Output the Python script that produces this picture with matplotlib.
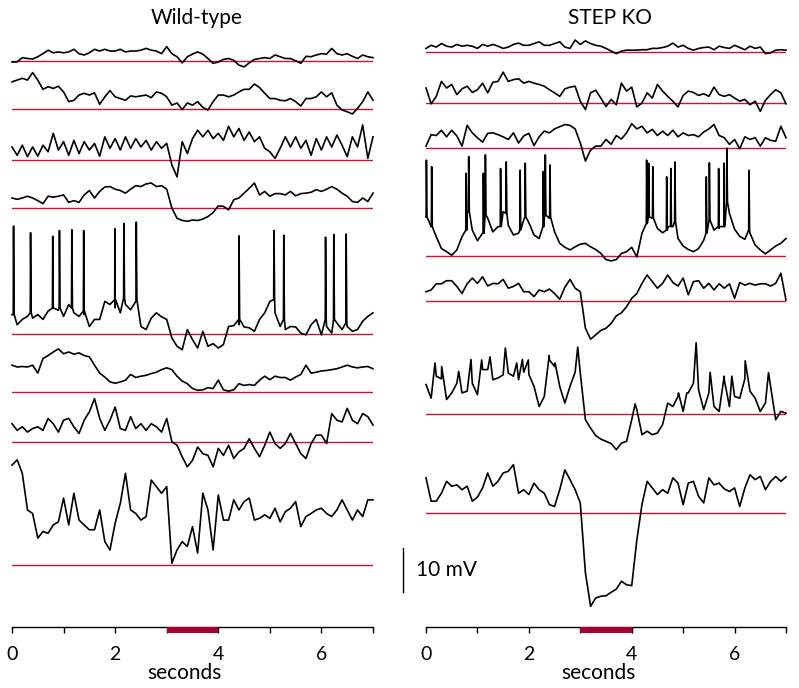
import numpy as np
import matplotlib
matplotlib.use("Agg")
import matplotlib.pyplot as plt

plt.rcParams['font.family'] = ['Lato', 'DejaVu Sans']

# sample times of the traces (s)
dt = 0.1
n_samples = 71

# membrane potential, mV relative to the red baseline of each trace
# Wild-type
wt1 = [-0.2, -0.15, 0.8, 0.6, 0.5, 1.0, 1.7, 2.5, 1.9, 2.1, 1.9, 2.1, 2.7, 1.7, 1.4, 1.9, 2.7, 2.3, 2.7, 2.3,
       2.3, 2.7, 2.1, 2.3, 2.3, 2.5, 2.9, 2.5, 2.3, 1.7, 3.3, 1.7, 1.0, -0.4, 1.0, 1.6, 2.1, 1.6, 0.6, -0.5,
       -0.2, 0.4, 0.6, 0.2, -0.9, -1.3, -0.4, 0.4, 0.6, 0.8, 0.6, 1.4, 1.0, 0.6, 0.6, 0.1, -0.5, 1.1, 1.0, 1.4,
       1.7, 1.6, 2.9, 1.7, 1.4, 1.7, 1.1, 0.6, 1.4, 1.0, 0.8]
wt2 = [6.2, 6.6, 7.0, 6.6, 8.3, 6.6, 4.5, 5.1, 4.7, 5.2, 3.9, 1.7, 2.0, 3.2, 3.6, 3.2, 3.7, 1.1, 2.8, 4.2,
       2.8, 2.4, 2.0, 3.0, 2.8, 3.0, 3.2, 2.6, 3.9, 3.6, 2.8, 0.9, 1.4, -0.1, 1.4, 0.9, 1.7, 0.4, -0.2, 1.7,
       3.2, 3.2, 2.8, 3.2, 3.9, 4.5, 4.5, 5.7, 4.9, 3.6, 2.4, 2.4, 2.0, 1.9, 2.4, 1.7, 0.7, 2.4, 2.4, 2.8,
       3.9, 2.8, 3.7, 0.9, -0.2, -0.6, -1.1, 0.15, 1.7, 3.9, 2.0]
wt3 = [3.0, 1.1, 3.4, 0.8, 3.0, 0.9, 3.4, 1.9, 6.1, 2.3, 4.2, 1.1, 4.5, 1.5, 4.2, 2.3, 3.8, 0.9, 5.3, 2.7,
       4.9, 2.3, 5.3, 2.7, 4.9, 3.0, 4.5, 2.3, 4.2, 2.7, 3.8, -1.1, -3.8, 4.2, 1.5, 4.9, 6.8, 5.3, 6.8, 4.9,
       6.1, 4.5, 7.7, 5.3, 7.2, 4.5, 6.4, 4.2, 5.3, 2.7, 1.9, 0.4, 2.7, 5.3, 3.0, 5.3, 2.7, 4.5, 1.1, 4.9,
       2.3, 5.3, 3.0, 5.7, 3.4, 0.8, 5.3, 3.0, 8.0, 0.4, 5.3]
wt4 = [2.3, 2.0, 2.3, 2.7, 2.3, 1.7, 1.0, 2.7, 2.5, 2.7, 3.0, 1.3, 1.7, 1.3, 3.0, 4.0, 2.3, 3.8, 4.8, 4.9,
       4.3, 4.0, 3.4, 4.3, 5.1, 4.9, 5.5, 5.7, 4.9, 5.1, 4.3, 0.0, -2.3, -2.8, -3.0, -2.7, -2.8, -2.5, -1.9, -1.0,
       0.5, 0.4, -0.4, 1.9, 2.3, 3.4, 4.5, 5.7, 3.0, 3.8, 2.7, 3.3, 3.3, 3.0, 3.8, 2.8, 3.3, 3.4, 3.6, 4.2,
       3.8, 4.3, 4.9, 4.3, 3.4, 2.7, 1.5, 1.3, 2.3, 1.5, 3.4]
wt5 = [4.4, 2.1, 3.3, 4.0, 3.6, 4.4, 3.3, 5.2, 5.9, 5.4, 4.0, 6.7, 4.8, 4.0, 4.4, 1.7, 3.3, 3.3, 7.4, 6.7,
       5.9, 4.8, 6.7, 5.5, 7.4, 1.7, 1.0, 3.6, 4.8, 3.9, 3.3, -0.9, -2.8, -3.6, 1.0, -1.3, -3.2, 0.6, -2.8, -2.2,
       -3.2, -2.4, 1.7, 1.9, 2.1, 1.6, 1.4, 0.6, 3.3, 4.8, 7.4, 4.8, 1.7, 1.0, 1.7, 1.6, 0.2, -0.2, 2.1, 3.3,
       -0.2, 1.7, 0.2, 2.5, 1.0, 1.7, 0.6, 1.0, 2.9, 4.0, 4.8]
wt5_spike_t = [0.03, 0.36, 0.79, 0.92, 1.16, 1.39, 1.997, 2.17, 2.41, 4.402, 5.08, 5.27, 6.08, 6.24, 6.48]
wt5_spike_mv = [24.5, 23.0, 22.2, 23.5, 23.7, 23.5, 23.9, 25.1, 25.4, 22.3, 23.5, 22.4, 22.0, 22.6, 22.7]
wt5_spike_foot = [4.4, 4.8, 5.9, 5.9, 5.9, 5.2, 7.8, 8.2, 7.8, 3.3, 7.8, 3.3, 3.3, 3.3, 2.5]
wt6 = [6.1, 5.7, 5.8, 5.7, 6.1, 4.3, 7.6, 8.3, 9.1, 9.8, 8.7, 9.1, 8.6, 8.9, 8.3, 8.0, 6.1, 4.3, 3.4, 2.3,
       2.0, 2.3, 2.7, 4.0, 3.3, 3.6, 3.8, 4.2, 4.5, 5.1, 5.5, 5.1, 3.6, 2.5, 1.9, 0.8, 0.4, 0.5, 1.0, 0.8,
       2.7, 0.5, 0.2, 0.5, 1.9, 1.5, 1.7, 1.5, 2.7, 3.6, 2.8, 3.6, 3.3, 3.3, 2.7, 3.4, 4.0, 6.1, 4.3, 4.5,
       4.8, 4.9, 5.1, 5.3, 5.7, 6.1, 5.7, 5.5, 5.7, 5.8, 5.3]
wt7 = [4.2, 2.7, 3.5, 2.3, 3.1, 3.5, 2.7, 5.4, 4.2, 2.3, 5.0, 5.4, 3.5, 2.0, 5.0, 6.9, 9.9, 5.4, 2.7, 5.0,
       8.0, 3.1, 2.7, 5.8, 3.1, 4.2, 2.7, 4.2, 3.5, 2.3, 5.4, 0.1, -0.7, -3.3, -5.6, -4.1, -1.1, -2.6, -3.0, -5.6,
       -1.4, -3.0, -0.7, -3.7, -2.2, -1.4, 0.8, -1.4, -3.3, -0.7, 2.3, -0.3, -1.4, -0.3, 2.0, -0.3, -2.6, -3.7, -0.3, 1.6,
       1.6, -0.3, 6.5, 5.0, 4.6, 7.7, 5.0, 4.2, 6.5, 5.8, 3.9]
wt8 = [22.7, 23.9, 20.8, 12.5, 11.7, 6.1, 7.6, 7.2, 9.1, 9.8, 15.2, 9.1, 16.3, 10.2, 9.1, 8.0, 8.0, 12.5, 5.3, 3.4,
       9.5, 14.0, 20.8, 12.5, 11.7, 10.2, 11.0, 19.3, 17.8, 16.3, 17.8, 0.4, 3.4, 5.3, 4.2, 8.7, 2.7, 16.3, 12.5, 3.4,
       15.9, 10.2, 10.2, 14.8, 12.5, 14.4, 15.2, 10.2, 10.6, 11.4, 10.6, 12.9, 9.8, 12.1, 12.9, 14.4, 8.7, 11.0, 11.7, 12.5,
       12.9, 11.7, 11.0, 12.5, 14.8, 12.5, 10.2, 12.5, 11.0, 14.8, 14.8]

# STEP KO
ko1 = [0.8, 1.5, 1.1, 1.9, 1.3, 1.1, 1.7, 1.3, 1.5, 1.3, 0.8, 1.7, 1.3, 1.7, 1.3, 0.8, 1.1, 1.7, 2.0, 1.5,
       1.5, 1.9, 2.3, 1.5, 1.5, 1.9, 2.3, 1.1, 0.8, 2.7, 1.7, 2.5, 1.9, 1.5, 1.3, 0.8, 0.2, -0.4, 0.2, 0.4,
       0.4, 0.4, 0.5, 0.5, 0.8, 0.8, 1.0, 1.3, 2.0, 1.1, 1.5, 0.8, 0.4, 0.8, 1.0, 1.1, 0.5, 1.3, 1.0, 0.8,
       1.5, 1.0, 0.5, 1.3, 0.8, 1.1, -0.4, -0.2, 0.4, 0.5, 0.4]
ko2 = [3.4, -0.2, 1.5, 4.9, 3.4, 4.2, 1.9, 3.2, 3.8, 2.4, 3.0, 4.5, 2.3, 4.7, 4.9, 7.0, 4.9, 5.3, 5.5, 4.5,
       4.9, 4.5, 4.2, 3.8, 3.0, 2.3, 1.5, 3.2, 3.6, 3.8, 0.4, -1.5, 2.3, 2.9, 1.1, -0.8, 0.8, -0.4, 4.5, 2.7,
       3.6, -0.9, 0.0, 2.3, 1.1, 4.2, 2.7, 1.5, 0.4, -0.9, 1.7, 2.7, 2.4, 1.7, 2.1, 1.5, 3.6, 1.9, 1.5, 1.9,
       1.1, 0.4, 0.8, -0.4, 0.4, -1.9, 0.6, 1.9, 3.0, 2.3, -0.2]
ko3 = [0.4, 3.0, 2.8, 4.0, 2.5, 4.0, 2.7, 0.4, 5.1, 3.4, 2.3, 1.3, 3.3, 3.4, 3.0, 2.5, 1.9, 3.4, 1.1, 2.7,
       3.3, 0.5, 2.5, 3.8, 3.4, 4.3, 4.8, 5.3, 5.1, 4.3, 1.1, -3.0, -0.5, 0.4, 0.4, 1.9, 0.8, 2.8, 2.0, 3.4,
       5.5, 4.3, 4.9, 3.4, 4.2, 2.8, 3.8, 2.8, 4.0, 2.5, 3.4, 2.8, 3.0, 2.5, 3.6, 4.3, 5.3, 2.8, 2.3, 0.8,
       1.9, -0.2, 2.5, 1.9, 2.3, 0.4, 2.3, 1.7, 1.5, 4.9, 2.3]
ko4 = [8.9, 6.7, 4.4, 1.7, 1.0, 0.2, 1.4, 4.4, 9.7, 5.9, 3.5, 5.2, 8.6, 5.5, 6.7, 10.1, 7.0, 4.8, 5.2, 8.2,
       7.6, 4.8, 4.0, 8.6, 8.6, 5.5, 2.9, 2.0, 1.4, 2.1, 2.7, 2.9, 2.1, 1.5, 0.6, -0.8, -1.1, -0.8, 0.6, 1.0,
       2.0, -0.2, 5.2, 9.7, 8.6, 6.3, 5.3, 6.7, 6.7, 4.0, 2.3, 1.5, 1.0, 1.7, 3.6, 7.8, 5.9, 6.3, 6.7, 9.7,
       6.1, 4.5, 3.8, 5.2, 2.5, 1.4, 0.5, 1.4, 2.3, 2.9, 4.0]
ko4_spike_t = [0.008, 0.11, 0.78, 0.83, 1.115, 1.155, 1.45, 1.56, 1.83, 1.93, 2.28, 2.32, 2.41,
               4.29, 4.33, 4.41, 4.68, 4.76, 4.84, 5.45, 5.51, 5.69, 5.798, 5.85, 6.28]
ko4_spike_mv = [21.8, 20.3, 18.8, 22.6, 18.8, 23.0, 19.9, 21.4, 19.5, 21.1, 19.2, 23.0, 20.7,
                21.8, 21.1, 20.3, 18.0, 19.9, 21.4, 18.0, 21.2, 19.9, 21.1, 24.5, 19.5]
ko4_spike_foot = [8.9, 6.7, 5.9, 10.1, 5.2, 9.3, 6.7, 9.7, 5.9, 8.9, 6.7, 9.3, 8.9,
                  7.4, 8.9, 8.6, 5.9, 6.7, 7.8, 5.2, 8.2, 6.7, 6.7, 12.3, 5.9]
ko5 = [2.1, 2.5, 3.9, 3.9, 4.6, 4.6, 3.3, 1.7, 3.9, 5.2, 4.0, 5.5, 3.4, 4.0, 3.9, 4.9, 2.9, 3.3, 4.0, 2.1,
       2.1, 1.0, 2.5, 2.1, 2.7, 1.7, 0.4, 3.1, 4.9, 2.9, 2.1, -6.2, -8.7, -7.7, -6.7, -6.2, -5.1, -3.4, -2.7, -1.3,
       0.6, 1.7, 4.0, 5.9, 4.4, 2.9, 4.0, 5.9, 4.2, 3.4, 5.2, 1.4, 4.4, 4.6, 2.9, 4.0, 2.5, 3.9, 2.9, 3.9,
       0.6, 4.2, 3.6, 4.0, 3.6, 3.9, 3.9, 3.4, 4.0, 6.3, 0.2]
ko6 = [6.7, 3.6, 8.6, 8.0, 3.3, 4.8, 7.0, 4.8, 5.2, 7.0, 4.4, 10.1, 10.1, 7.8, 8.2, 8.9, 9.3, 8.6, 7.8, 9.5,
       9.0, 6.3, 1.7, 4.0, 12.3, 10.8, 6.3, 2.5, 6.3, 9.5, 9.3, -1.3, -3.2, -4.9, -5.7, -6.2, -6.7, -8.1, -6.6, -6.2,
       -1.3, 1.0, -4.7, -3.9, -4.7, -4.3, -2.4, 2.5, 1.7, 4.0, 0.6, 4.8, 7.0, 5.5, 1.0, 4.8, 1.7, 0.6, 7.8, 1.7,
       4.0, 3.6, 8.0, 5.2, 3.6, 0.6, 2.5, 6.3, -1.3, 0.6, 0.2]
ko6_peak_t = [0.175, 0.305, 0.636, 0.875, 1.083, 1.245, 1.543, 1.764, 1.874, 1.99, 2.395,
              2.51, 2.95, 4.066, 4.909, 5.071, 5.253, 5.525, 5.798, 5.947, 6.206, 6.66]
ko6_peak_mv = [11.6, 10.8, 9.7, 12.4, 12.3, 13.0, 15.0, 11.6, 12.4, 12.3, 13.3,
               11.6, 15.2, 2.3, 4.8, 4.8, 16.2, 9.5, 8.6, 8.6, 12.1, 9.4]
ko7 = [8.0, 2.7, 2.7, 4.5, 7.2, 6.1, 6.4, 5.3, 6.1, 2.7, 3.6, 5.7, 9.1, 6.1, 7.2, 9.1, 9.5, 11.0, 4.5, 5.3,
       4.2, 6.8, 5.3, 4.5, 1.9, 1.5, 5.3, 9.8, 7.6, 5.3, 2.3, -13.6, -21.2, -19.3, -18.9, -18.8, -18.0, -17.3, -15.5, -16.3,
       -16.5, -6.1, 2.0, 7.2, 5.7, 4.2, 5.3, 4.5, 8.0, 6.8, 1.9, 6.8, 7.2, 3.8, 2.3, 8.0, 6.4, 6.8, 5.5, 4.9,
       5.7, 1.5, 5.7, 8.7, 7.6, 8.3, 5.3, 7.2, 8.3, 7.2, 8.2]

# light stimulus (s)
light_on = 3.0
light_off = 4.0
scale_mv = 10

# layout: vertical position of each baseline (mV above the time axis)
wt_offsets = [128.6, 117.7, 106.1, 95.2, 66.6, 53.4, 42.0, 14.1]
ko_offsets = [130.7, 119.1, 108.9, 84.3, 74.1, 48.4, 25.9]

RED = '#c8143c'
BAR = '#a8002f'
PX_PER_MV = 4.4


def with_spikes(t, v, spike_t, spike_mv, spike_foot=None):
  # put the spike points into the sampled trace
  t = list(t)
  v = list(v)
  for i in range(len(spike_t)):
    t.append(spike_t[i])
    v.append(spike_mv[i])
    if spike_foot is not None:
      t += [spike_t[i] - 0.006, spike_t[i] + 0.012]
      v += [spike_foot[i], spike_foot[i]]
  order = np.argsort(t, kind='stable')
  return np.array(t)[order], np.array(v)[order]


def draw_panel(ax, traces, offsets, title):
  for (t, v), off in zip(traces, offsets):
    ax.axhline(off, color=RED, lw=1.0, zorder=1)
    ax.plot(t, np.asarray(v) + off, color='black', lw=1.2, zorder=2,
            solid_joinstyle='round', clip_on=False)

  ax.set_xlim(0, 7)
  ax.set_ylim(0, 627 / PX_PER_MV)
  for s in ['left', 'right', 'top']:
    ax.spines[s].set_visible(False)
  ax.spines['bottom'].set_linewidth(1.0)
  ax.set_yticks([])
  ax.set_xticks(range(8))
  ax.set_xticklabels(['0', '', '2', '', '4', '', '6', ''])
  ax.tick_params(axis='x', length=4.5, width=1.0, pad=9, labelsize=14)

  # light bar under the axis
  h = 6 / PX_PER_MV
  ax.bar([(light_on + light_off) / 2], [h], width=light_off - light_on, bottom=-h,
         color=BAR, clip_on=False, zorder=3)

  ax.text(3.35, -0.073, 'seconds', transform=ax.get_xaxis_transform(),
          ha='center', va='center', fontsize=15)
  ax.text(3.57, (627 - 18) / 627, title, transform=ax.get_xaxis_transform(),
          ha='center', va='center', fontsize=15)


fig = plt.figure(figsize=(7.99, 6.88), dpi=100)
ax_wt = fig.add_axes([12 / 799, 61 / 688, 361 / 799, 627 / 688])
ax_ko = fig.add_axes([426 / 799, 61 / 688, 360 / 799, 627 / 688])

t_grid = np.arange(n_samples) * dt

wt_traces = [(t_grid, wt1), (t_grid, wt2), (t_grid, wt3), (t_grid, wt4),
             with_spikes(t_grid, wt5, wt5_spike_t, wt5_spike_mv, wt5_spike_foot),
             (t_grid, wt6), (t_grid, wt7), (t_grid, wt8)]
ko_traces = [(t_grid, ko1), (t_grid, ko2), (t_grid, ko3),
             with_spikes(t_grid, ko4, ko4_spike_t, ko4_spike_mv, ko4_spike_foot),
             (t_grid, ko5),
             with_spikes(t_grid, ko6, ko6_peak_t, ko6_peak_mv),
             (t_grid, ko7)]

draw_panel(ax_wt, wt_traces, wt_offsets, 'Wild-type')
draw_panel(ax_ko, ko_traces, ko_offsets, 'STEP KO')

# 10 mV scale bar
y0 = (627 - 592) / PX_PER_MV
ax_ko.plot([-0.447, -0.447], [y0, y0 + scale_mv], color='black', lw=1.0, clip_on=False)
ax_ko.text(-0.2, y0 + scale_mv / 2, '10 mV', ha='left', va='center', fontsize=15)

fig.savefig('out.png', dpi=100)
